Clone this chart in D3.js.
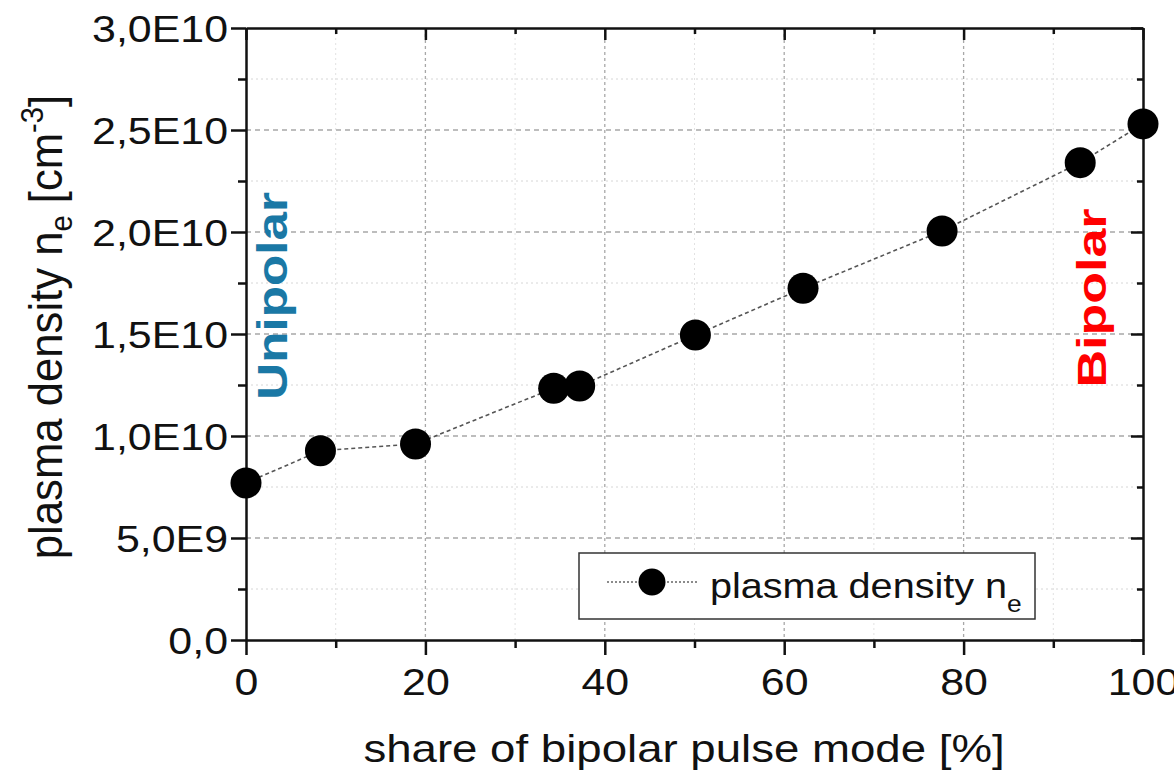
<!DOCTYPE html>
<html>
<head>
<meta charset="utf-8">
<script src="https://cdn.jsdelivr.net/npm/d3@7"></script>
<style>
    body { margin: 0; background: #fff; }
    svg { display: block; }
    text { font-family: "Liberation Sans", Arial, sans-serif; fill: #111; }
</style>
</head>
<body>
<svg id="chart" width="1174" height="774"></svg>
<script>
// share of bipolar pulse mode [%] vs plasma density
const share = [0, 8.3, 18.9, 34.3, 37.2, 50.1, 62.1, 77.6, 93.0, 100];
const density = [0.77e10, 0.928e10, 0.961e10, 1.234e10, 1.245e10, 1.495e10, 1.724e10, 2.005e10, 2.34e10, 2.53e10];

const xTicks = [0, 20, 40, 60, 80, 100];
const xTickLabels = ["0", "20", "40", "60", "80", "100"];
const xMinor = [10, 30, 50, 70, 90];
const yTicks = [0, 0.5e10, 1.0e10, 1.5e10, 2.0e10, 2.5e10, 3.0e10];
const yTickLabels = ["0,0", "5,0E9", "1,0E10", "1,5E10", "2,0E10", "2,5E10", "3,0E10"];
const yMinor = [0.25e10, 0.75e10, 1.25e10, 1.75e10, 2.25e10, 2.75e10];

const plotLeft = 246, plotRight = 1143, plotTop = 28, plotBottom = 640;

const svg = d3.select('#chart');

const x = d3.scaleLinear().domain([0, 100]).range([plotLeft, plotRight]);
const y = d3.scaleLinear().domain([0, 3e10]).range([plotBottom, plotTop]);

// grid lines
const grid = svg.append("g");
grid.selectAll("line.ymin").data(yMinor).enter().append("line")
    .attr("x1", plotLeft).attr("x2", plotRight)
    .attr("y1", d => y(d)).attr("y2", d => y(d))
    .attr("stroke", "#d6d6d6").attr("stroke-width", 1).attr("stroke-dasharray", "2,3");
grid.selectAll("line.xmin").data(xMinor).enter().append("line")
    .attr("x1", d => x(d)).attr("x2", d => x(d))
    .attr("y1", plotTop).attr("y2", plotBottom)
    .attr("stroke", "#e2e2e2").attr("stroke-width", 1).attr("stroke-dasharray", "2,3");
grid.selectAll("line.ymaj").data(yTicks.slice(1, -1)).enter().append("line")
    .attr("x1", plotLeft).attr("x2", plotRight)
    .attr("y1", d => y(d)).attr("y2", d => y(d))
    .attr("stroke", "#a8a8a8").attr("stroke-width", 1.3).attr("stroke-dasharray", "5,4");
grid.selectAll("line.xmaj").data(xTicks.slice(1, -1)).enter().append("line")
    .attr("x1", d => x(d)).attr("x2", d => x(d))
    .attr("y1", plotTop).attr("y2", plotBottom)
    .attr("stroke", "#a8a8a8").attr("stroke-width", 1.3).attr("stroke-dasharray", "3,3");

// axes
function styleAxis(g) {
    g.selectAll("path.domain").attr("stroke", "#111").attr("stroke-width", 2.5);
    g.selectAll(".tick line").attr("stroke", "#111").attr("stroke-width", 2.5);
}

const bottomAxis = svg.append("g").attr("transform", `translate(0,${plotBottom})`)
    .call(d3.axisBottom(x).tickValues(xTicks).tickSize(15).tickSizeOuter(0)
        .tickFormat((d, i) => xTickLabels[i]));
styleAxis(bottomAxis);
bottomAxis.selectAll("text")
    .attr("y", 0).attr("dy", null)
    .attr("transform", "translate(0,55) scale(1.16,1)")
    .style("font-size", "37px").attr("fill", "#111");

svg.append("g").attr("transform", `translate(0,${plotBottom})`)
    .call(d3.axisBottom(x).tickValues(xMinor).tickSize(8).tickFormat(""))
    .call(g => g.select(".domain").remove())
    .call(styleAxis);

const leftAxis = svg.append("g").attr("transform", `translate(${plotLeft},0)`)
    .call(d3.axisLeft(y).tickValues(yTicks).tickSize(15).tickSizeOuter(0)
        .tickFormat((d, i) => yTickLabels[i]));
styleAxis(leftAxis);
leftAxis.selectAll("text")
    .attr("x", 0).attr("dy", "0.36em")
    .attr("transform", "translate(-18,0) scale(1.16,1)")
    .style("font-size", "37px").attr("fill", "#111");

svg.append("g").attr("transform", `translate(${plotLeft},0)`)
    .call(d3.axisLeft(y).tickValues(yMinor).tickSize(8).tickFormat(""))
    .call(g => g.select(".domain").remove())
    .call(styleAxis);

// mirrored axes, ticks pointing in
svg.append("g").attr("transform", `translate(0,${plotTop})`)
    .call(d3.axisTop(x).tickValues(xTicks).tickSize(-12).tickSizeOuter(0).tickFormat(""))
    .call(styleAxis);
svg.append("g").attr("transform", `translate(0,${plotTop})`)
    .call(d3.axisTop(x).tickValues(xMinor).tickSize(-6).tickFormat(""))
    .call(g => g.select(".domain").remove())
    .call(styleAxis);
svg.append("g").attr("transform", `translate(${plotRight},0)`)
    .call(d3.axisRight(y).tickValues(yTicks).tickSize(-12).tickSizeOuter(0).tickFormat(""))
    .call(styleAxis);
svg.append("g").attr("transform", `translate(${plotRight},0)`)
    .call(d3.axisRight(y).tickValues(yMinor).tickSize(-6).tickFormat(""))
    .call(g => g.select(".domain").remove())
    .call(styleAxis);

// series
const pts = share.map((s, i) => [s, density[i]]);
svg.append("path")
    .datum(pts)
    .attr("d", d3.line().x(d => x(d[0])).y(d => y(d[1])))
    .attr("fill", "none")
    .attr("stroke", "#555")
    .attr("stroke-width", 1.6)
    .attr("stroke-dasharray", "4,3");

svg.selectAll("circle.pt").data(pts).enter().append("circle")
    .attr("cx", d => x(d[0]))
    .attr("cy", d => y(d[1]))
    .attr("r", 15.5)
    .attr("fill", "#000");

// axis titles
svg.append("text")
    .attr("transform", "translate(684,762) scale(1.2,1)")
    .attr("text-anchor", "middle")
    .style("font-size", "38px")
    .text("share of bipolar pulse mode [%]");

const yTitle = svg.append("text")
    .attr("transform", "translate(62,327) rotate(-90) scale(1.04,1.1)")
    .attr("text-anchor", "middle")
    .style("font-size", "42px");
yTitle.append("tspan").text("plasma density n");
yTitle.append("tspan").attr("dy", 9).style("font-size", "28px").text("e");
yTitle.append("tspan").attr("dy", -9).text(" [cm");
yTitle.append("tspan").attr("dy", -17).style("font-size", "28px").text("-3");
yTitle.append("tspan").attr("dy", 17).text("]");

// annotations
svg.append("text")
    .attr("transform", "translate(287,296) rotate(-90) scale(1.28,1.05)")
    .attr("text-anchor", "middle")
    .style("font-size", "40px").style("font-weight", "bold")
    .style("fill", "#1a78a5")
    .text("Unipolar");

svg.append("text")
    .attr("transform", "translate(1106,298) rotate(-90) scale(1.3,1)")
    .attr("text-anchor", "middle")
    .style("font-size", "40px").style("font-weight", "bold")
    .style("fill", "#ff0000")
    .text("Bipolar");

// legend
const legend = svg.append("g");
legend.append("rect")
    .attr("x", 579).attr("y", 553).attr("width", 456).attr("height", 66)
    .attr("fill", "#fff").attr("stroke", "#333").attr("stroke-width", 1.5);
legend.append("line")
    .attr("x1", 607).attr("x2", 698).attr("y1", 582).attr("y2", 582)
    .attr("stroke", "#666").attr("stroke-width", 1.3).attr("stroke-dasharray", "2,2");
legend.append("circle")
    .attr("cx", 652).attr("cy", 582).attr("r", 13.5).attr("fill", "#000");
const legText = legend.append("text")
    .attr("transform", "translate(710,598) scale(1.1,1)")
    .style("font-size", "36px");
legText.append("tspan").text("plasma density n");
legText.append("tspan").attr("dy", 14).style("font-size", "24px").text("e");
</script>
</body>
</html>
